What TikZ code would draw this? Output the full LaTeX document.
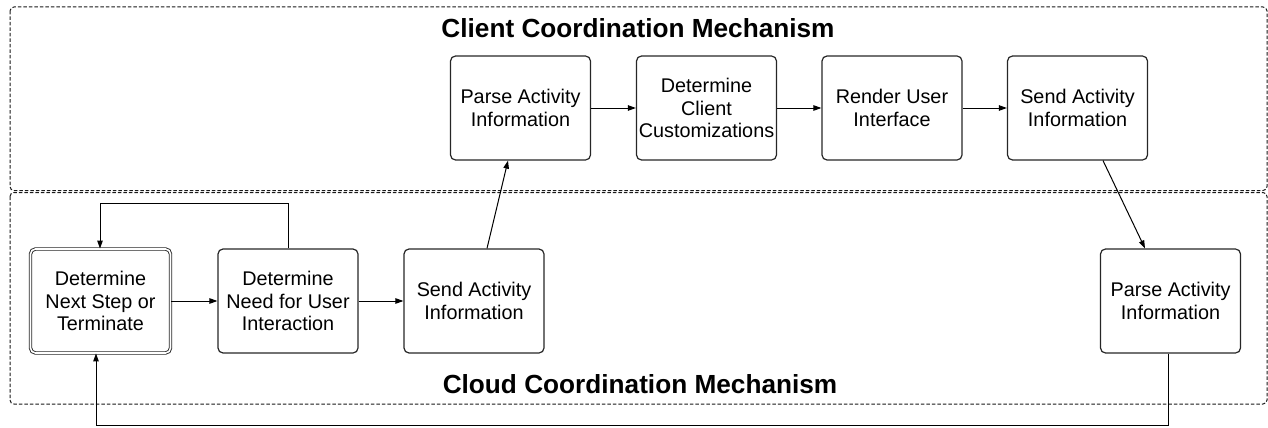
\documentclass[tikz,border=0pt]{standalone}
\usepackage{fontspec}
\setmainfont{Liberation Sans}
\usetikzlibrary{arrows.meta}
\tikzset{
  box/.style={draw=black!85, line width=1.2pt, rounded corners=5pt, minimum width=140pt, minimum height=104pt, inner sep=0pt, align=center, font=\fontsize{19.8}{22.7}\selectfont},
  dbox/.style={box, double, double distance=1.6pt, line width=0.9pt},
  region/.style={draw=black!90, line width=1pt, dash pattern=on 3.5pt off 2pt, rounded corners=4pt},
  conn/.style={line width=1pt, -{Triangle[length=8pt,width=5.5pt]}},
  title/.style={font=\fontsize{26.2}{30}\selectfont\bfseries, inner sep=0pt}
}
\begin{document}
\begin{tikzpicture}[x=1pt,y=-1pt]
\useasboundingbox (0,0) rectangle (1268,428);
\draw[region] (10,7) rectangle (1267,190.5);
\draw[region] (10,192.5) rectangle (1267,404);
\node[title] (t1) at (638,28) {Client Coordination Mechanism};
\node[title] (t2) at (640,384) {Cloud Coordination Mechanism};
\node[dbox] (dns) at (100.5,301) {Determine\\Next Step or\\Terminate};
\node[box] (need) at (288,301) {Determine\\Need for User\\Interaction};
\node[box] (sendb) at (474,301) {Send Activity\\Information};
\node[box] (parseb) at (1170.5,301) {Parse Activity\\Information};
\node[box] (parset) at (520.5,108) {Parse Activity\\Information};
\node[box] (detc) at (706.5,108) {Determine\\Client\\Customizations};
\node[box] (render) at (892,108) {Render User\\Interface};
\node[box] (sendt) at (1077.5,108) {Send Activity\\Information};
\coordinate (l1) at (288,203);
\coordinate (l2) at (100,203);
\coordinate (b1) at (1168,425);
\coordinate (b2) at (96,425);
\draw[conn] (dns) -- (need);
\draw[conn] (need) -- (sendb);
\draw[conn] (need.north) -- (l1) -- (l2) -- (l2 |- dns.north);
\draw[conn] ([xshift=13pt]sendb.north) -- ([xshift=-12.5pt]parset.south);
\draw[conn] (parset) -- (detc);
\draw[conn] (detc) -- (render);
\draw[conn] (render) -- (sendt);
\draw[conn] ([xshift=25.5pt]sendt.south) -- ([xshift=-25.5pt]parseb.north);
\draw[conn] (parseb.south -| b1) -- (b1) -- (b2) -- (b2 |- dns.south);
\end{tikzpicture}
\end{document}
